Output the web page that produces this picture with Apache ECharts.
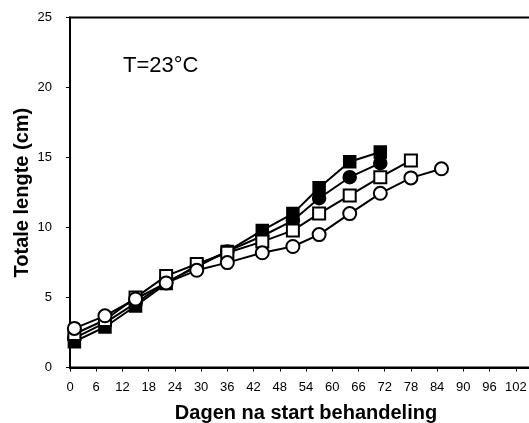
<!DOCTYPE html>
<html>
<head>
<meta charset="utf-8">
<script src="https://cdn.jsdelivr.net/npm/echarts@6/dist/echarts.min.js"></script>
<style>html,body{margin:0;padding:0;background:#fff}#c{width:529px;height:423px}</style>
</head>
<body>
<div id="c"></div>
<script>
var days = [1, 8, 15, 22, 29, 36, 44, 51, 57, 64, 71, 78, 85];
var xTicks = [0, 6, 12, 18, 24, 30, 36, 42, 48, 54, 60, 66, 72, 78, 84, 90, 96, 102];
var yTicks = [0, 5, 10, 15, 20, 25];
var filledSquare = [1.85, 2.9, 4.4, 6.0, 7.3, 8.3, 9.8, 11.0, 12.85, 14.7, 15.4];
var filledSquareErr = [0, 0, 0, 0, 0, 0, 0.2, 0.2, 0.35, 0.3, 0.3];
var filledCircle = [2.1, 3.2, 4.6, 6.1, 7.2, 8.3, 9.4, 10.5, 12.1, 13.6, 14.6];
var openSquare = [2.4, 3.4, 5.0, 6.55, 7.4, 8.2, 9.0, 9.8, 11.0, 12.3, 13.6, 14.8];
var openCircle = [2.8, 3.7, 4.9, 6.05, 6.95, 7.5, 8.2, 8.65, 9.5, 11.0, 12.45, 13.55, 14.2];
var label = 'T=23°C';

function pairs(vals) { return vals.map(function (v, i) { return [days[i], v]; }); }
var FONT = 'Liberation Sans, Arial, sans-serif';

var chart = echarts.init(document.getElementById('c'), null, {renderer: 'canvas'});
var errData = filledSquare.map(function (v, i) { return [days[i], v - filledSquareErr[i], v + filledSquareErr[i]]; });

chart.setOption({
  animation: false,
  grid: {left: 70, top: 17.6, right: -13, bottom: 55.4, outerBoundsMode: 'none', containLabel: false,
    show: true, borderColor: '#000', borderWidth: 2, backgroundColor: 'transparent'},
  xAxis: {
    type: 'value', min: 0, max: 108, interval: 6,
    name: 'Dagen na start behandeling', nameLocation: 'middle', nameGap: 36,
    nameTextStyle: {fontFamily: FONT, fontWeight: 'bold', fontSize: 20, color: '#000'},
    axisLine: {show: true, onZero: false, lineStyle: {color: '#000', width: 2}},
    axisTick: {show: true, inside: false, length: 4, lineStyle: {color: '#000', width: 1}},
    axisLabel: {fontFamily: FONT, fontSize: 13, color: '#000', margin: 13,
      formatter: function (v) { return xTicks.indexOf(v) >= 0 ? String(v) : ''; }},
    splitLine: {show: false}
  },
  yAxis: {
    type: 'value', min: 0, max: 25, interval: 5,
    name: 'Totale lengte (cm)', nameLocation: 'middle', nameGap: 38, nameRotate: 90, nameMoveOverlap: false,
    nameTextStyle: {fontFamily: FONT, fontWeight: 'bold', fontSize: 20, color: '#000'},
    axisLine: {show: true, lineStyle: {color: '#000', width: 2}},
    axisTick: {show: true, inside: false, length: 4, lineStyle: {color: '#000', width: 1}},
    axisLabel: {fontFamily: FONT, fontSize: 13, color: '#000', margin: 18,
      formatter: function (v) { return yTicks.indexOf(v) >= 0 ? String(v) : ''; }},
    splitLine: {show: false}
  },
  graphic: [{type: 'text', left: 123, top: 55, style: {text: label, font: '22px ' + FONT, fill: '#000'}}],
  series: [
    {type: 'custom', z: 1, data: errData, renderItem: function (params, api) {
      var top = api.coord([api.value(0), api.value(2)]);
      var bot = api.coord([api.value(0), api.value(1)]);
      var w = 5;
      return {type: 'group', children: [
        {type: 'line', shape: {x1: top[0], y1: top[1], x2: bot[0], y2: bot[1]}, style: {stroke: '#000', lineWidth: 1.5}},
        {type: 'line', shape: {x1: top[0] - w, y1: top[1], x2: top[0] + w, y2: top[1]}, style: {stroke: '#000', lineWidth: 1.5}},
        {type: 'line', shape: {x1: bot[0] - w, y1: bot[1], x2: bot[0] + w, y2: bot[1]}, style: {stroke: '#000', lineWidth: 1.5}}
      ]};
    }},
    {type: 'line', z: 2, data: pairs(filledSquare), symbol: 'rect', symbolSize: 12, showAllSymbol: true,
      lineStyle: {color: '#000', width: 2}, itemStyle: {color: '#000', borderColor: '#000', borderWidth: 1.5}},
    {type: 'line', z: 3, data: pairs(filledCircle), symbol: 'circle', symbolSize: 13, showAllSymbol: true,
      lineStyle: {color: '#000', width: 2}, itemStyle: {color: '#000', borderColor: '#000', borderWidth: 1.5}},
    {type: 'line', z: 4, data: pairs(openSquare), symbol: 'rect', symbolSize: 12, showAllSymbol: true,
      lineStyle: {color: '#000', width: 2}, itemStyle: {color: '#fff', borderColor: '#000', borderWidth: 2}},
    {type: 'line', z: 5, data: pairs(openCircle), symbol: 'circle', symbolSize: 13, showAllSymbol: true,
      lineStyle: {color: '#000', width: 2}, itemStyle: {color: '#fff', borderColor: '#000', borderWidth: 2}}
  ]
});
</script>
</body>
</html>
